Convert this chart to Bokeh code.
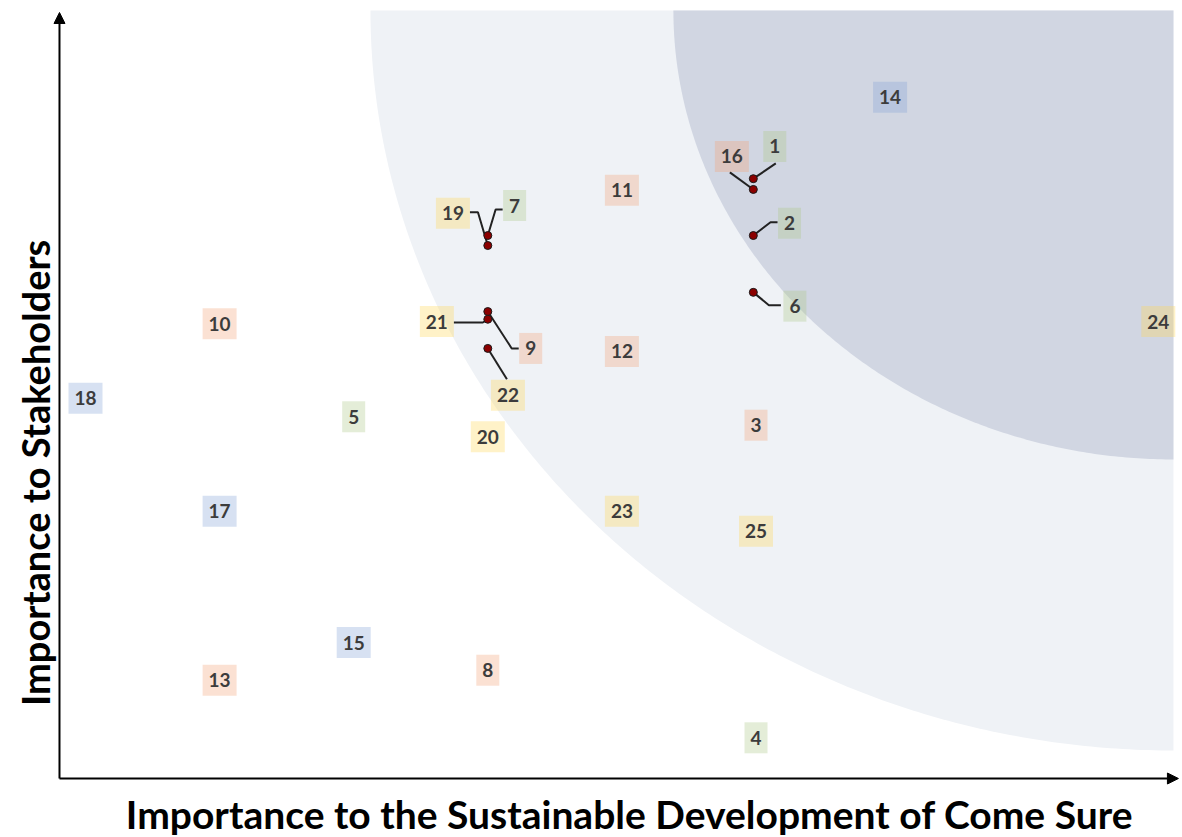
import numpy as np
from bokeh.plotting import figure
from bokeh.models import Range1d, Arrow, NormalHead, Label, ColumnDataSource
from bokeh.core.properties import value
from bokeh.embed import file_html
from bokeh.resources import INLINE

# ---------------- data ----------------
# issues placed directly (no leader line)
plain_ids = ["14", "11", "10", "24", "12", "18", "5", "3", "20", "17", "23", "25", "15", "8", "13", "4"]
plain_x = [7, 5, 2, 9, 5, 1, 3, 6, 4, 2, 5, 6, 3, 4, 2, 6]
plain_y = [8.87, 7.66, 5.92, 5.95, 5.56, 4.95, 4.71, 4.60, 4.45, 3.48, 3.48, 3.22, 1.77, 1.41, 1.28, 0.53]
plain_group = ["blue", "peach", "peach", "yellow", "peach", "blue", "green", "peach", "yellow",
               "blue", "yellow", "yellow", "blue", "peach", "peach", "green"]

# issues marked by a dot with a call-out label
point_ids = ["1", "16", "2", "6", "7", "19", "9", "21", "22"]
point_x = [5.98, 5.98, 5.98, 5.98, 4.0, 4.0, 4.0, 4.0, 4.0]
point_y = [7.81, 7.67, 7.07, 6.33, 7.07, 6.94, 6.08, 5.98, 5.60]
point_label_x = [6.14, 5.82, 6.25, 6.29, 4.20, 3.74, 4.32, 3.62, 4.15]
point_label_y = [8.23, 8.10, 7.23, 6.15, 7.46, 7.36, 5.60, 5.95, 4.99]
point_group = ["green", "peach", "green", "green", "green", "yellow", "peach", "yellow", "yellow"]

x_title = "Importance to the Sustainable Development of Come Sure"
y_title = "Importance to Stakeholders"

# ---------------- layout / style ----------------
W, H = 1182, 837
X0, X1 = 0.3661, 9.1804
Y0, Y1 = -0.7682, 10.1302
X_AXIS0, Y_AXIS0 = 0.806, 0.0
X_MAX, Y_MAX = 9.113, 10.0
LIGHT_A, LIGHT_B = 5.988, 9.635
DARK_A, DARK_B = 3.729, 5.846
PXX = W / (X1 - X0)
PXY = H / (Y1 - Y0)

FILL = {"peach": "#F2A276", "blue": "#84A2D7", "green": "#ABC687", "yellow": "#FFD755"}
FONT = "Lato"
TXT = "#3C3C3C"
# leader anchor offset from label centre (px, +down) and horizontal stub length (px)
LEADER = {"1": (1, 17, 0), "16": (-2, 16, 0), "2": (-12, -1, -7), "6": (-14, -1, -12),
          "7": (-12, 4, -7), "19": (17, -1, 8), "9": (-12, 0, -7), "21": (17, 1, 29),
          "22": (-1, -16, 0)}

p = figure(width=W, height=H, x_range=Range1d(X0, X1), y_range=Range1d(Y0, Y1),
           output_backend="svg", toolbar_location=None, min_border=0,
           x_axis_location=None, y_axis_location=None)
p.grid.visible = False
p.outline_line_color = None
p.background_fill_color = "white"

# quarter-ellipse zones anchored at the top-right corner
t = np.linspace(np.pi, 1.5 * np.pi, 200)
lx = np.concatenate([[X_MAX], X_MAX + LIGHT_A * np.cos(t)])
ly = np.concatenate([[Y_MAX], Y_MAX + LIGHT_B * np.sin(t)])
p.patch(lx, ly, fill_color="#EFF2F6", line_color=None)
dx = np.concatenate([[X_MAX], X_MAX + DARK_A * np.cos(t)])
dy = np.concatenate([[Y_MAX], Y_MAX + DARK_B * np.sin(t)])
p.patch(dx, dy, fill_color="#D1D6E2", line_color=None)

# axes with arrows
p.add_layout(Arrow(end=NormalHead(size=11, fill_color="black", line_color="black", line_width=1),
                   x_start=X_AXIS0, y_start=Y_AXIS0, x_end=X_AXIS0, y_end=9.974,
                   line_color="black", line_width=2))
p.add_layout(Arrow(end=NormalHead(size=11, fill_color="black", line_color="black", line_width=1),
                   x_start=X_AXIS0, y_start=Y_AXIS0, x_end=9.15, y_end=Y_AXIS0,
                   line_color="black", line_width=2))

# leader lines
lxs, lys = [], []
for pid, px_, py_, tx, ty in zip(point_ids, point_x, point_y, point_label_x, point_label_y):
    ox, oy, stub = LEADER[pid]
    ax = tx + ox / PXX
    ay = ty - oy / PXY
    ex = ax + stub / PXX
    lxs.append([px_, ex, ax])
    lys.append([py_, ay, ay])
p.multi_line(lxs, lys, line_color="#222222", line_width=2)

# label boxes
all_ids = plain_ids + point_ids
all_x = plain_x + point_label_x
all_y = plain_y + point_label_y
all_g = plain_group + point_group
src = ColumnDataSource(dict(
    x=all_x, y=all_y, t=all_ids,
    c=[FILL[g] for g in all_g],
    w=[34 if len(s) > 1 else 23 for s in all_ids],
))
p.rect("x", "y", width="w", height=31, width_units="screen", height_units="screen",
       fill_color="c", fill_alpha=0.32, line_color=None, source=src)
p.text("x", "y", text="t", source=src, text_align="center", text_baseline="middle",
       text_font=value(FONT), text_font_style="bold", text_font_size="19px", text_color=TXT)

# dots
p.scatter(point_x, point_y, size=8, fill_color="#8B0000", line_color="#1a1a1a", line_width=1)

# axis titles
p.add_layout(Label(x=5.057, y=-0.46, text=x_title, text_align="center", text_baseline="middle",
                   text_font=FONT, text_font_style="bold", text_font_size="39px", text_color="black"))
p.add_layout(Label(x=0.627, y=3.98, text=y_title, angle=np.pi / 2, text_align="center",
                   text_baseline="middle", text_font=FONT, text_font_style="bold",
                   text_font_size="38px", text_color="black"))

open("out.html", "w").write(file_html(p, INLINE))
